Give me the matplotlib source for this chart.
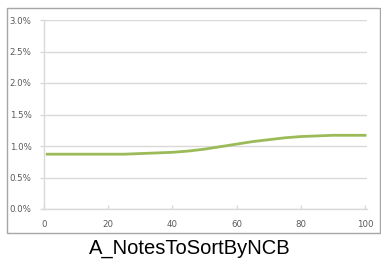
import matplotlib.pyplot as plt
from matplotlib.patches import Rectangle
from matplotlib.ticker import FuncFormatter

# values
x_vals = [1, 5, 10, 15, 20, 25, 30, 35, 40, 45, 50, 55, 60, 65, 70, 75, 80, 85, 90, 95, 100]
rate = [0.0087, 0.0087, 0.0087, 0.0087, 0.0087, 0.0087, 0.0088, 0.0089, 0.0090, 0.0092,
        0.0095, 0.0099, 0.0103, 0.0107, 0.0110, 0.0113, 0.0115, 0.0116, 0.0117, 0.0117, 0.0117]
x_ticks = [0, 20, 40, 60, 80, 100]
y_ticks = [0.0, 0.005, 0.010, 0.015, 0.020, 0.025, 0.030]
title = "A_NotesToSortByNCB"

fig = plt.figure(figsize=(3.81, 2.62), dpi=100)
fig.patch.set_facecolor('white')

# outer chart border
fig.patches.append(Rectangle((7 / 381, 1 - 233 / 262), 373 / 381, 225 / 262,
                             transform=fig.transFigure, fill=False,
                             edgecolor='#a6a6a6', linewidth=1))

ax = fig.add_axes([44 / 381, 1 - 209 / 262, 323 / 381, 189 / 262])
ax.plot(x_vals, rate, color='#9bbb59', linewidth=2)

ax.set_xlim(0, 100.6)
ax.set_ylim(0, 0.03)
ax.set_xticks(x_ticks)
ax.set_yticks(y_ticks)
ax.yaxis.set_major_formatter(FuncFormatter(lambda v, p: f'{v * 100:.1f}%'))
ax.grid(True, axis='y', color='#d9d9d9', linewidth=1)
ax.set_axisbelow(True)

for side in ['top', 'right']:
    ax.spines[side].set_visible(False)
for side in ['left', 'bottom']:
    ax.spines[side].set_color('#d9d9d9')
    ax.spines[side].set_linewidth(1)

ax.tick_params(axis='both', labelsize=6.2, labelcolor='#595959', color='#d9d9d9',
               length=3, width=1)
ax.tick_params(axis='x', direction='in', pad=8)
ax.tick_params(axis='y', direction='out', pad=6)

fig.text(190 / 381, 1 - 248 / 262, title, ha='center', va='center',
         fontsize=14.5, family='Liberation Sans', color='black')

fig.savefig('out.png', dpi=100, facecolor='white')
